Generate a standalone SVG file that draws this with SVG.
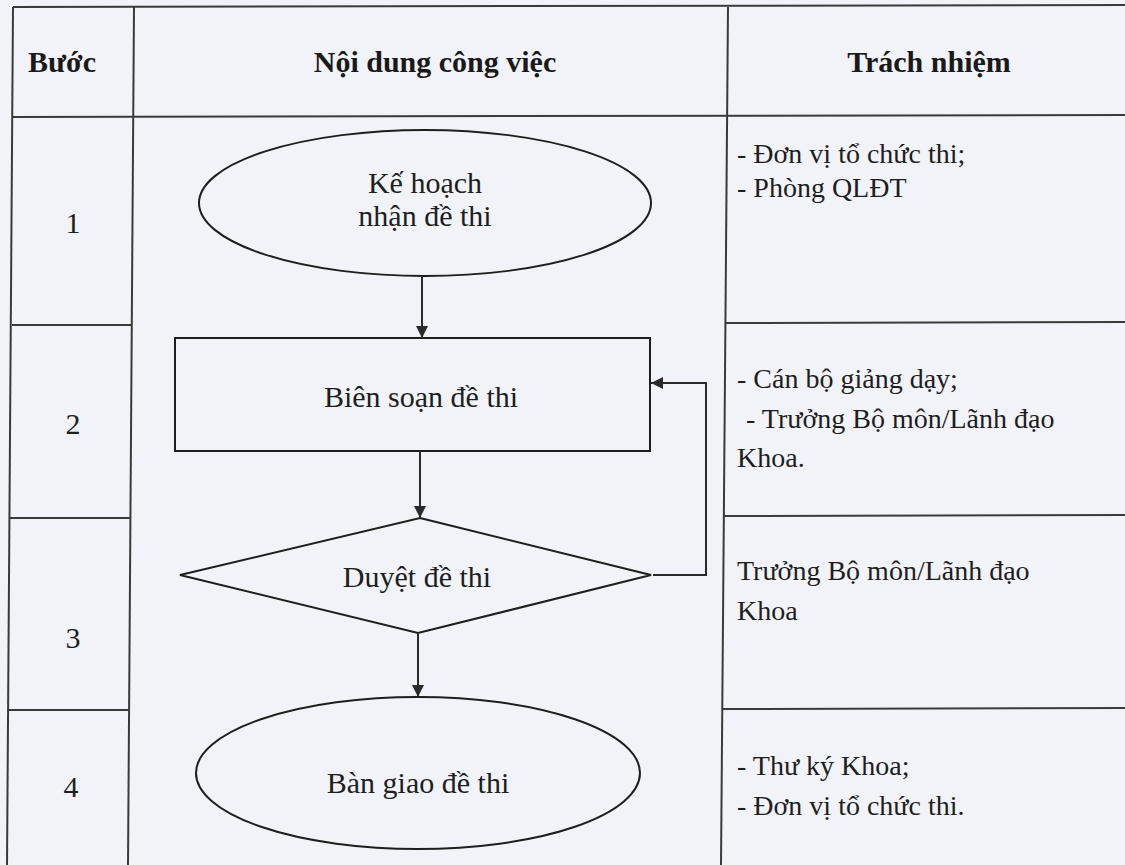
<svg xmlns="http://www.w3.org/2000/svg" width="1125" height="865" viewBox="0 0 1125 865">
  <defs>
    <style>
      .grid { stroke: #3a3a3a; stroke-width: 2; fill: none; }
      .shape { stroke: #1e1e1e; stroke-width: 2; fill: none; }
      .conn { stroke: #2a2a2a; stroke-width: 2; fill: none; }
      .hdr { font-family: "Liberation Serif", "Times New Roman", serif; font-weight: bold; font-size: 30px; fill: #1a1a1a; text-anchor: middle; }
      .txt { font-family: "Liberation Serif", "Times New Roman", serif; font-size: 28px; fill: #1e1e1e; }
      .flow { font-family: "Liberation Serif", "Times New Roman", serif; font-size: 30px; fill: #1e1e1e; text-anchor: middle; }
      .num { font-family: "Liberation Serif", "Times New Roman", serif; font-size: 30px; fill: #1e1e1e; text-anchor: middle; }
    </style>
    <marker id="arrow" viewBox="0 0 12 12" refX="12" refY="6" markerWidth="12" markerHeight="12" markerUnits="userSpaceOnUse" orient="auto">
      <path d="M0,0 L12,6 L0,12 Z" fill="#2a2a2a"/>
    </marker>
  </defs>
  <rect width="1125" height="865" fill="#f1f3f8"/>

  <g id="table">
    <line class="grid" x1="13" y1="7" x2="7" y2="865"/>
    <line class="grid" x1="134" y1="7" x2="128" y2="865"/>
    <line class="grid" x1="728" y1="7" x2="721" y2="865"/>
    <line class="grid" x1="13" y1="7" x2="1125" y2="5"/>
    <line class="grid" x1="13" y1="117" x2="1125" y2="115"/>
    <line class="grid" x1="12" y1="325" x2="132" y2="325"/>
    <line class="grid" x1="10" y1="518" x2="130" y2="518"/>
    <line class="grid" x1="9" y1="710" x2="129" y2="710"/>
    <line class="grid" x1="725" y1="323" x2="1125" y2="322"/>
    <line class="grid" x1="724" y1="516" x2="1125" y2="515"/>
    <line class="grid" x1="722" y1="709" x2="1125" y2="708"/>
  </g>

  <g id="header">
    <text class="hdr" x="62" y="72">Bước</text>
    <text class="hdr" x="435" y="72">Nội dung công việc</text>
    <text class="hdr" x="929" y="72">Trách nhiệm</text>
  </g>

  <g id="steps">
    <text class="num" x="73" y="233">1</text>
    <text class="num" x="73" y="434">2</text>
    <text class="num" x="73" y="648">3</text>
    <text class="num" x="71" y="797">4</text>
  </g>

  <g id="node-ke-hoach">
    <ellipse class="shape" cx="425" cy="203" rx="226" ry="73"/>
    <text class="flow" x="425" y="193">Kế hoạch</text>
    <text class="flow" x="425" y="226">nhận đề thi</text>
  </g>

  <g id="node-bien-soan">
    <rect class="shape" x="175" y="338" width="475" height="113"/>
    <text class="flow" x="421" y="407">Biên soạn đề thi</text>
  </g>

  <g id="node-duyet">
    <polygon class="shape" points="420,518 651,575 418,633 180,575"/>
    <text class="flow" x="417" y="587">Duyệt đề thi</text>
  </g>

  <g id="node-ban-giao">
    <ellipse class="shape" cx="418" cy="773" rx="222" ry="76"/>
    <text class="flow" x="418" y="793">Bàn giao đề thi</text>
  </g>

  <g id="connectors">
    <line class="conn" x1="422" y1="277" x2="422" y2="338" marker-end="url(#arrow)"/>
    <line class="conn" x1="420" y1="451" x2="420" y2="518" marker-end="url(#arrow)"/>
    <line class="conn" x1="418" y1="633" x2="418" y2="697" marker-end="url(#arrow)"/>
    <polyline class="conn" points="653,575 706,575 706,383 651,383" marker-end="url(#arrow)"/>
  </g>

  <g id="responsibilities">
    <text class="txt" x="737" y="163">- Đơn vị tổ chức thi;</text>
    <text class="txt" x="737" y="197">- Phòng QLĐT</text>
    <text class="txt" x="737" y="388">- Cán bộ giảng dạy;</text>
    <text class="txt" x="746" y="428">- Trưởng Bộ môn/Lãnh đạo</text>
    <text class="txt" x="737" y="467">Khoa.</text>
    <text class="txt" x="737" y="580">Trưởng Bộ môn/Lãnh đạo</text>
    <text class="txt" x="737" y="620">Khoa</text>
    <text class="txt" x="737" y="775">- Thư ký Khoa;</text>
    <text class="txt" x="737" y="815">- Đơn vị tổ chức thi.</text>
  </g>
</svg>
